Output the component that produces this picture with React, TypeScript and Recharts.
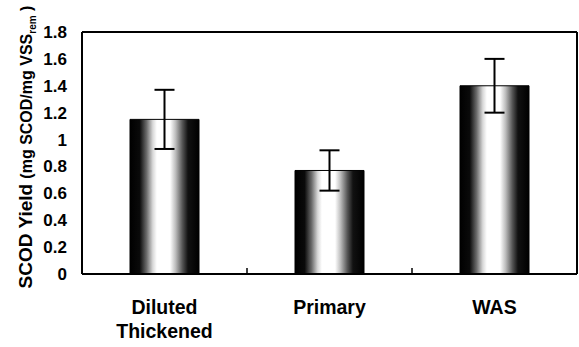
import { BarChart, Bar, XAxis, YAxis, ErrorBar, ReferenceLine } from 'recharts'

const categories = ['Diluted Thickened', 'Primary', 'WAS']
const scodYield = [1.15, 0.77, 1.4]
const scodError = [0.22, 0.15, 0.2]
const yTicks = [0, 0.2, 0.4, 0.6, 0.8, 1, 1.2, 1.4, 1.6, 1.8]

const data = categories.map((name, i) => ({
  name,
  value: scodYield[i],
  err: scodError[i],
}))

const FONT = '"Liberation Sans", Arial, sans-serif'

function CategoryTick(props: any) {
  const { x, y, payload } = props
  const words = String(payload.value).split(' ')
  return (
    <text
      x={x}
      y={y}
      textAnchor="middle"
      fontFamily={FONT}
      fontWeight="bold"
      fontSize={19.5}
      fill="#000"
    >
      {words.map((w, i) => (
        <tspan key={i} x={x} dy={i === 0 ? 40 : 24}>
          {w}
        </tspan>
      ))}
    </text>
  )
}

function YTitle() {
  const bx = 32
  const cy = 147
  return (
    <text
      x={bx}
      y={cy}
      transform={`rotate(-90, ${bx}, ${cy})`}
      textAnchor="middle"
      fontFamily={FONT}
      fontWeight="bold"
      fill="#000"
    >
      <tspan fontSize={19}>SCOD Yield </tspan>
      <tspan fontSize={16}>(mg SCOD/mg VSS</tspan>
      <tspan fontSize={10} dy={4}>rem</tspan>
      <tspan fontSize={16} dy={-4}> )</tspan>
    </text>
  )
}

export default function App() {
  return (
    <div style={{ position: 'absolute', left: 0, top: 0, background: '#fff' }}>
      <BarChart
        width={579}
        height={347}
        data={data}
        margin={{ top: 32, right: 2, bottom: 0, left: 0 }}
        barSize={69}
      >
        <defs>
          <linearGradient id="cyl" x1="0" y1="0" x2="1" y2="0">
            <stop offset="0%" stopColor="#000" />
            <stop offset="14%" stopColor="#0a0a0a" />
            <stop offset="24%" stopColor="#6a6a6a" />
            <stop offset="33%" stopColor="#d8d8d8" />
            <stop offset="39%" stopColor="#fff" />
            <stop offset="58%" stopColor="#fff" />
            <stop offset="66%" stopColor="#bdbdbd" />
            <stop offset="76%" stopColor="#555" />
            <stop offset="84%" stopColor="#111" />
            <stop offset="100%" stopColor="#000" />
          </linearGradient>
        </defs>
        <XAxis
          dataKey="name"
          height={73}
          axisLine={{ stroke: '#000', strokeWidth: 2 }}
          tickLine={false}
          tickSize={0}
          tickMargin={0}
          interval={0}
          tick={<CategoryTick />}
        />
        <YAxis
          width={82}
          domain={[0, 1.8]}
          ticks={yTicks}
          interval={0}
          tickLine={false}
          tickSize={5}
          tickMargin={10}
          axisLine={{ stroke: '#000', strokeWidth: 2 }}
          tick={{ fill: '#000', fontSize: 17, fontWeight: 'bold', fontFamily: FONT }}
          label={<YTitle />}
        />
        <ReferenceLine y={1.8} stroke="#000" strokeWidth={2} ifOverflow="visible" />
        <ReferenceLine x="WAS" position="end" stroke="#000" strokeWidth={2} ifOverflow="visible" />
        {categories.slice(1).map(c => (
          <ReferenceLine
            key={c}
            position="start"
            segment={[{ x: c, y: 0 }, { x: c, y: 0.045 }]}
            stroke="#000"
            strokeWidth={1.5}
          />
        ))}
        <Bar
          dataKey="value"
          fill="url(#cyl)"
          stroke="#000"
          strokeWidth={1}
          isAnimationActive={false}
        >
          <ErrorBar
            dataKey="err"
            width={10}
            stroke="#000"
            strokeWidth={2}
            isAnimationActive={false}
          />
        </Bar>
      </BarChart>
    </div>
  )
}
